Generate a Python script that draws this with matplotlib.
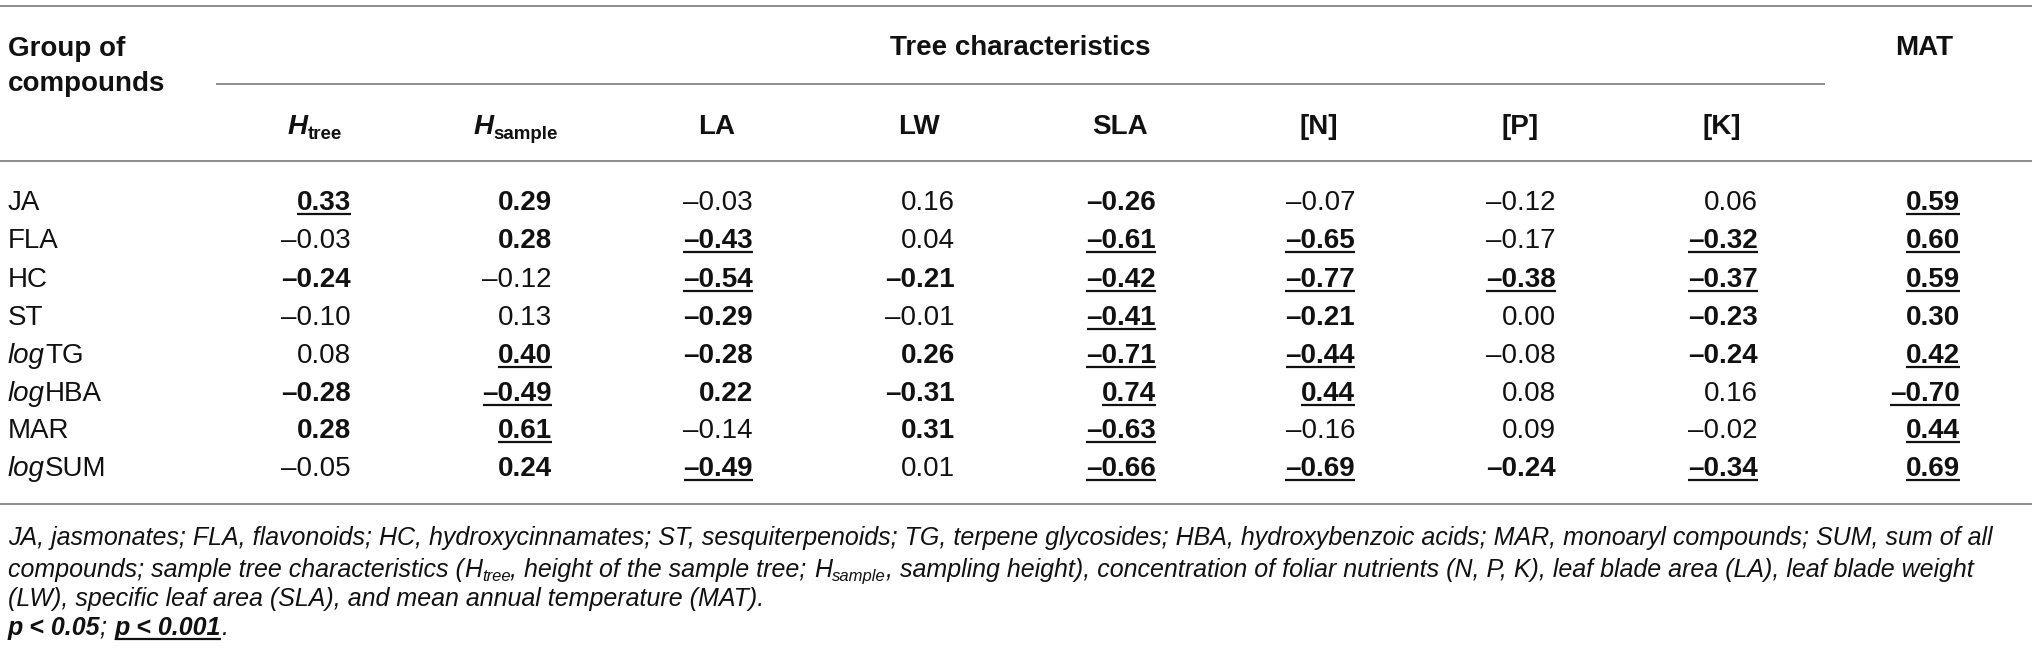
import matplotlib
matplotlib.use("Agg")
import matplotlib.pyplot as plt

plt.rcParams['font.family'] = ['Liberation Sans', 'DejaVu Sans']

W, H = 2032, 663

# table content
row_labels = [("", "JA"), ("", "FLA"), ("", "HC"), ("", "ST"),
              ("log", "TG"), ("log", "HBA"), ("", "MAR"), ("log", "SUM")]
col_labels = [("H", "tree"), ("H", "sample"), ("LA", ""), ("LW", ""), ("SLA", ""),
              ("[N]", ""), ("[P]", ""), ("[K]", ""), ("MAT", "")]

values = [
    [0.33, 0.29, -0.03, 0.16, -0.26, -0.07, -0.12, 0.06, 0.59],
    [-0.03, 0.28, -0.43, 0.04, -0.61, -0.65, -0.17, -0.32, 0.60],
    [-0.24, -0.12, -0.54, -0.21, -0.42, -0.77, -0.38, -0.37, 0.59],
    [-0.10, 0.13, -0.29, -0.01, -0.41, -0.21, 0.00, -0.23, 0.30],
    [0.08, 0.40, -0.28, 0.26, -0.71, -0.44, -0.08, -0.24, 0.42],
    [-0.28, -0.49, 0.22, -0.31, 0.74, 0.44, 0.08, 0.16, -0.70],
    [0.28, 0.61, -0.14, 0.31, -0.63, -0.16, 0.09, -0.02, 0.44],
    [-0.05, 0.24, -0.49, 0.01, -0.66, -0.69, -0.24, -0.34, 0.69],
]
# 0 = n.s., 1 = p<0.05 (bold), 2 = p<0.001 (bold + underline)
signif = [
    [2, 1, 0, 0, 1, 0, 0, 0, 2],
    [0, 1, 2, 0, 2, 2, 0, 2, 2],
    [1, 0, 2, 1, 2, 2, 2, 2, 2],
    [0, 0, 1, 0, 2, 1, 0, 1, 1],
    [0, 2, 1, 1, 2, 2, 0, 1, 2],
    [1, 2, 1, 1, 2, 2, 0, 0, 2],
    [1, 2, 0, 1, 2, 0, 0, 0, 2],
    [0, 1, 2, 0, 2, 2, 1, 2, 2],
]

fig = plt.figure(figsize=(W / 100, H / 100), dpi=100)
ax = fig.add_axes([0, 0, 1, 1])
ax.set_xlim(0, W)
ax.set_ylim(H, 0)
ax.axis('off')
renderer = fig.canvas.get_renderer()

line_col = '#8c8c8c'
txt_col = '#111111'
FS = 20
FS_SUB = 13.5
FS_NOTE = 18
FS_NOTE_SUB = 12


def hline(x0, x1, y):
    ax.plot([x0, x1], [y, y], color=line_col, lw=1.4, solid_capstyle='butt')


def draw_runs(x, y, parts, ha='left', underline=False):
    # parts: (text, size, weight, style, dy)
    objs = []
    total = 0
    for s, size, weight, style, dy in parts:
        t = ax.text(0, y + dy, s, fontsize=size, fontweight=weight, fontstyle=style,
                    color=txt_col, ha='left', va='baseline')
        w = t.get_window_extent(renderer).width
        objs.append((t, w))
        total += w
    if ha == 'right':
        x0 = x - total
    elif ha == 'center':
        x0 = x - total / 2
    else:
        x0 = x
    cur = x0
    for t, w in objs:
        t.set_x(cur)
        cur += w
    if underline:
        ax.plot([x0, x0 + total], [y + 3.5, y + 3.5], color=txt_col, lw=1.6,
                solid_capstyle='butt')
    return x0 + total


# rules
hline(0, W, 6)
hline(216, 1825, 84)
hline(0, W, 161)
hline(0, W, 504)

# header
draw_runs(8, 56, [("Group of", FS, 'bold', 'normal', 0)])
draw_runs(8, 91, [("compounds", FS, 'bold', 'normal', 0)])
draw_runs(1020, 55, [("Tree characteristics", FS, 'bold', 'normal', 0)], ha='center')

col_right = [351, 552, 753, 955, 1156, 1355, 1556, 1758, 1960]
for i, (main, sub) in enumerate(col_labels):
    cx = col_right[i] - 36
    if sub:
        draw_runs(cx, 134, [(main, FS, 'bold', 'italic', 0),
                            (sub, FS_SUB, 'bold', 'normal', 5)], ha='center')
    elif main == "MAT":
        draw_runs(cx, 55, [(main, FS, 'bold', 'normal', 0)], ha='center')
    else:
        draw_runs(cx, 134, [(main, FS, 'bold', 'normal', 0)], ha='center')

# body
row_base = [210, 248, 287, 325, 363, 401, 438, 476]
for r, (pre, name) in enumerate(row_labels):
    y = row_base[r]
    parts = []
    if pre:
        parts.append((pre, FS, 'normal', 'italic', 0))
    parts.append((name, FS, 'normal', 'normal', 0))
    draw_runs(8, y, parts)
    for c, v in enumerate(values[r]):
        s = f"{abs(v):.2f}"
        if v < 0:
            s = "\u2013" + s
        lvl = signif[r][c]
        weight = 'bold' if lvl > 0 else 'normal'
        draw_runs(col_right[c], y, [(s, FS, weight, 'normal', 0)], ha='right',
                  underline=(lvl == 2))

# footnote
note1 = ("JA, jasmonates; FLA, flavonoids; HC, hydroxycinnamates; ST, sesquiterpenoids; "
         "TG, terpene glycosides; HBA, hydroxybenzoic acids; MAR, monoaryl compounds; SUM, sum of all")
draw_runs(8, 545, [(note1, FS_NOTE, 'normal', 'italic', 0)])
draw_runs(8, 577, [
    ("compounds; sample tree characteristics (", FS_NOTE, 'normal', 'italic', 0),
    ("H", FS_NOTE, 'normal', 'italic', 0),
    ("tree", FS_NOTE_SUB, 'normal', 'italic', 4),
    (", height of the sample tree; ", FS_NOTE, 'normal', 'italic', 0),
    ("H", FS_NOTE, 'normal', 'italic', 0),
    ("sample", FS_NOTE_SUB, 'normal', 'italic', 4),
    (", sampling height), concentration of foliar nutrients (N, P, K), leaf blade area (LA), "
     "leaf blade weight", FS_NOTE, 'normal', 'italic', 0),
])
draw_runs(8, 606, [("(LW), specific leaf area (SLA), and mean annual temperature (MAT).",
                    FS_NOTE, 'normal', 'italic', 0)])
x_end = draw_runs(8, 635, [("p < 0.05", FS_NOTE, 'bold', 'italic', 0),
                           ("; ", FS_NOTE, 'normal', 'italic', 0)])
x_end2 = draw_runs(x_end, 635, [("p < 0.001", FS_NOTE, 'bold', 'italic', 0)], underline=True)
draw_runs(x_end2, 635, [(".", FS_NOTE, 'normal', 'italic', 0)])

fig.savefig("out.png", dpi=100, facecolor='white')
